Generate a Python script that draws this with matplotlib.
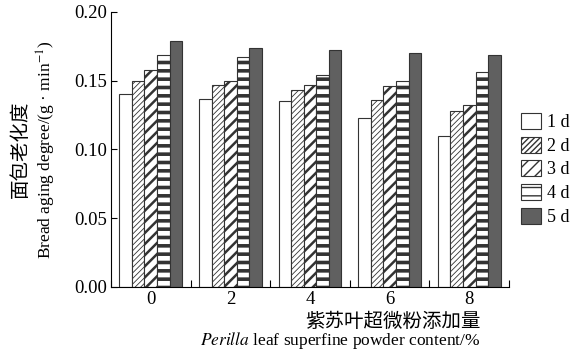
import numpy as np
import matplotlib
matplotlib.use("Agg")
import matplotlib.pyplot as plt

plt.rcParams['font.family'] = ['Liberation Serif', 'Noto Sans CJK SC']
plt.rcParams['mathtext.fontset'] = 'stix'

groups = ['0', '2', '4', '6', '8']
days = ['1 d', '2 d', '3 d', '4 d', '5 d']
d1 = [0.140, 0.137, 0.135, 0.123, 0.110]
d2 = [0.150, 0.147, 0.143, 0.136, 0.128]
d3 = [0.158, 0.150, 0.147, 0.146, 0.132]
d4 = [0.169, 0.167, 0.154, 0.150, 0.156]
d5 = [0.179, 0.174, 0.172, 0.170, 0.169]
series = [d1, d2, d3, d4, d5]

hatches = ['', '//////', '///', '--', '']
hatch_lw = [0.5, 0.6, 1.8, 2.6, 0.5]
faces = ['white', 'white', 'white', 'white', '#606060']

fig = plt.figure(figsize=(5.72, 3.52), dpi=100)
ax = fig.add_axes([0.194, 0.185, 0.696, 0.781])

x = np.arange(len(groups))
w = 0.158
handles = []
for i, vals in enumerate(series):
    bars = ax.bar(x + (i - 2) * w, vals, w, color=faces[i], edgecolor='#333333',
                  linewidth=0.8, hatch=hatches[i], label=days[i])
    for b in bars:
        if hasattr(b, 'set_hatch_linewidth'):
            b.set_hatch_linewidth(hatch_lw[i])
    handles.append(bars)

ax.set_xlim(-0.5, 4.5)
ax.set_ylim(0, 0.20)
ax.set_yticks([0, 0.05, 0.10, 0.15, 0.20])
ax.set_yticklabels(['0.00', '0.05', '0.10', '0.15', '0.20'])
ax.set_xticks(x)
ax.set_xticklabels(groups)
ax.set_xticks(np.arange(-0.5, 5, 1), minor=True)
ax.tick_params(axis='x', which='major', length=0, labelsize=13.5, pad=3)
ax.tick_params(axis='x', which='minor', direction='in', length=5, width=0.8)
ax.tick_params(axis='y', direction='in', length=4, width=0.8, labelsize=13.5, pad=3)
ax.spines['top'].set_visible(False)
ax.spines['right'].set_visible(False)
for s in ['left', 'bottom']:
    ax.spines[s].set_linewidth(0.8)

fig.text(0.035, 0.575, '面包老化度', rotation=90, ha='center', va='center',
         fontsize=14, family=['Noto Sans CJK SC'])
fig.text(0.082, 0.575, 'Bread aging degree/(g · min$^{-1}$)', rotation=90,
         ha='center', va='center', fontsize=12.5)
fig.text(0.84, 0.087, '紫苏叶超微粉添加量', ha='right', va='center',
         fontsize=14, family=['Noto Sans CJK SC'])
fig.text(0.84, 0.033, '$\\it{Perilla}$ leaf superfine powder content/%', ha='right',
         va='center', fontsize=12.5)

fig.legend(handles=handles, labels=days, loc='upper left',
           bbox_to_anchor=(0.899, 0.70), frameon=False, fontsize=13,
           handlelength=1.1, handleheight=1.0, labelspacing=0.3,
           handletextpad=0.3, borderaxespad=0)

fig.savefig('out.png', dpi=100)
